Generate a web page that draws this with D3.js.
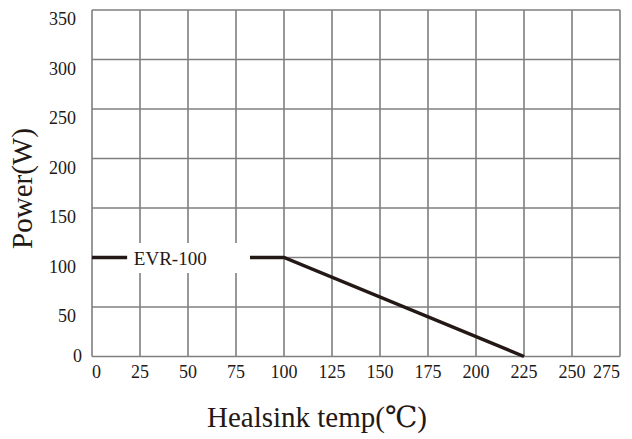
<!DOCTYPE html>
<html><head><meta charset="utf-8">
<script src="https://cdn.jsdelivr.net/npm/d3@7"></script>
<style>body{margin:0;background:#fff}svg{display:block}</style>
</head><body>
<script>
const temps = [0, 100, 225];
const power = [100, 100, 0];
const seriesName = "EVR-100";
const xTicks = [0,25,50,75,100,125,150,175,200,225,250,275];
const yTicks = [0,50,100,150,200,250,300,350];
const xTitle = "Healsink temp(\u2103)";
const yTitle = "Power(W)";

const W = 632, H = 439;
const m = {l:92, r:12, t:10, b:82.5};
const svg = d3.select("body").append("svg").attr("width",W).attr("height",H);
const x = d3.scaleLinear().domain([0,275]).range([m.l, W-m.r]);
const y = d3.scaleLinear().domain([0,350]).range([H-m.b, m.t]);
const font = "'Liberation Serif','DejaVu Serif',serif";
const grid = "#7f7f7f";
const ink = "#231815";

const g = svg.append("g");
g.selectAll(".vx").data(xTicks).enter().append("line")
  .attr("x1",d=>x(d)).attr("x2",d=>x(d)).attr("y1",y(0)).attr("y2",y(350))
  .attr("stroke",grid).attr("stroke-width",1.6);
g.selectAll(".hy").data(yTicks).enter().append("line")
  .attr("x1",x(0)).attr("x2",x(275)).attr("y1",d=>y(d)).attr("y2",d=>y(d))
  .attr("stroke",grid).attr("stroke-width",1.6);

// x tick labels
svg.selectAll(".xl").data(xTicks).enter().append("text")
  .attr("x",(d,i)=>x(d)).attr("y",y(0)+21)
  .attr("text-anchor",(d,i)=>i===0?"start":(i===xTicks.length-1?"end":"middle"))
  .attr("font-family",font).attr("font-size",18).attr("fill",ink).text(d=>d);
// y tick labels
svg.selectAll(".yl").data(yTicks).enter().append("text")
  .attr("x",d=>d===0?x(0)-10:x(0)-16).attr("y",d=>d===0?y(d)+5.5:y(d)+15)
  .attr("text-anchor","end")
  .attr("font-family",font).attr("font-size",18).attr("fill",ink).text(d=>d);

// line
const pts = temps.map((t,i)=>[t,power[i]]);
svg.append("path").datum(pts)
  .attr("d",d3.line().x(d=>x(d[0])).y(d=>y(d[1])))
  .attr("fill","none").attr("stroke",ink).attr("stroke-width",3.5);

// legend label box
const lg = svg.append("g");
lg.append("rect").attr("x",x(18.3)).attr("y",y(100)-14.5)
  .attr("width",x(82.3)-x(18.3)).attr("height",30).attr("fill","#fff");
lg.append("text").attr("x",x(21.8)).attr("y",y(100)+7.5)
  .attr("font-family",font).attr("font-size",19).attr("fill",ink).text(seriesName);

// titles
svg.append("text").attr("x",317).attr("y",427).attr("text-anchor","middle")
  .attr("font-family",font).attr("font-size",29).attr("fill",ink).text(xTitle);
svg.append("text").attr("transform",`translate(32,188.5) rotate(-90)`).attr("text-anchor","middle")
  .attr("font-family",font).attr("font-size",29).attr("fill",ink).text(yTitle);
</script>
</body></html>
